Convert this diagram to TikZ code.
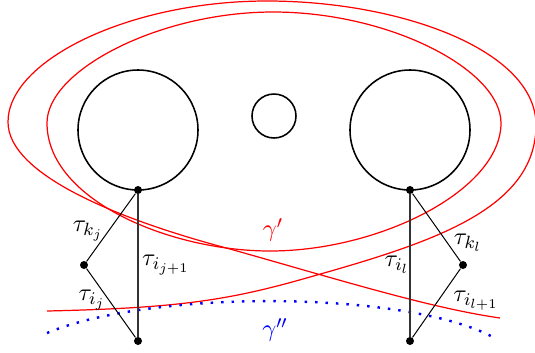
\documentclass[tikz,border=0pt]{standalone}
\usetikzlibrary{shapes.geometric}
\begin{document}
\begin{tikzpicture}[x=0.45pt,y=-0.45pt,
  hole/.style={draw,circle,line width=0.7pt,inner sep=0pt},
  dot/.style={circle,fill=black,inner sep=0pt,minimum size=3.6pt},
  arcline/.style={line width=0.45pt},
  vline/.style={line width=0.7pt,black!80},
  redc/.style={red,line width=0.55pt},
  bluec/.style={blue,line width=1.1pt,dash pattern=on 1.1pt off 3.6pt},
  lab/.style={font=\fontsize{11.2}{13}\selectfont}]
\useasboundingbox (0,0) rectangle (535,352);
% holes
\node[hole,minimum size=54pt] (L) at (138,130) {};
\node[hole,minimum size=54pt] (R) at (410,130) {};
\node[hole,minimum size=19.8pt] (S) at (274,116) {};
% red curves
\draw[redc] (47,123) .. controls (47,200) and (170,251) .. (270,251)
  .. controls (380,251) and (501,190) .. (501,123)
  .. controls (501,70) and (390,12) .. (273,12)
  .. controls (160,12) and (47,70) .. cycle;
\coordinate (ol) at (47,311);
\coordinate (or) at (500,318);
\draw[redc] (ol) .. controls (180,308) and (230,300) .. (310,277)
  .. controls (430,243) and (536,210) .. (536,125)
  .. controls (536,50) and (400,1) .. (267,1)
  .. controls (130,1) and (8,60) .. (8,122)
  .. controls (8,175) and (120,220) .. (230,249)
  .. controls (340,280) and (430,308) .. (or);
% blue curve
\coordinate (bl) at (47,333);
\coordinate (br) at (491,336);
\draw[bluec] (bl) .. controls (150,290) and (400,290) .. (br);
% points
\node[dot] (A) at (138,190) {};
\node[dot] (B) at (84,265) {};
\node[dot] (C) at (138,341) {};
\node[dot] (D) at (410,190) {};
\node[dot] (E) at (463,265) {};
\node[dot] (F) at (410,341) {};
\draw[arcline] (A) -- (B) -- (C);
\draw[vline] (A) -- (C);
\draw[arcline] (D) -- (E) -- (F);
\draw[vline] (D) -- (F);
% labels
\node[lab] (t1) at (88,231) {$\tau_{k_j}$};
\node[lab] (t2) at (166,265) {$\tau_{i_{j+1}}$};
\node[lab] (t3) at (92,300) {$\tau_{i_j}$};
\node[lab] (t4) at (397,265) {$\tau_{i_l}$};
\node[lab] (t5) at (468,243) {$\tau_{k_l}$};
\node[lab] (t6) at (476,301) {$\tau_{i_{l+1}}$};
\node[lab,red] (g1) at (273,230) {$\gamma'$};
\node[lab,blue] (g2) at (275,330) {$\gamma''$};
\end{tikzpicture}
\end{document}
